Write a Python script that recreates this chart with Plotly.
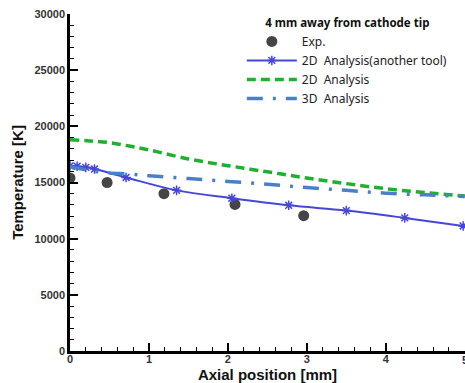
import plotly.graph_objects as go

# Experimental data
exp_x = [0.0, 0.47, 1.19, 2.09, 2.96]
exp_y = [15400, 15000, 14000, 13050, 12050]

# 2D Analysis (another tool)
other_x = [0.0, 0.09, 0.2, 0.31, 0.71, 1.35, 2.05, 2.77, 3.50, 4.24, 4.98]
other_y = [16480, 16450, 16350, 16200, 15450, 14300, 13600, 12970, 12500, 11850, 11130]

# 2D Analysis
a2d_x = [0, 0.25, 0.5, 0.75, 1.0, 1.5, 2.0, 2.5, 3.0, 3.5, 4.0, 4.5, 5.0]
a2d_y = [18800, 18700, 18550, 18250, 17900, 17100, 16500, 15950, 15400, 14900, 14450, 14100, 13800]

# 3D Analysis
a3d_x = [0, 0.15, 0.3, 0.5, 0.75, 1.0, 1.5, 2.0, 2.5, 3.0, 3.5, 4.0, 4.5, 5.0]
a3d_y = [16400, 16200, 16000, 15850, 15750, 15600, 15350, 15100, 14850, 14550, 14300, 14050, 13900, 13750]

x_ticks = [0, 1, 2, 3, 4, 5]
y_ticks = [0, 5000, 10000, 15000, 20000, 25000, 30000]

fig = go.Figure()
fig.add_trace(go.Scatter(x=exp_x, y=exp_y, mode="markers", name="Exp.",
                         marker=dict(color="#454545", size=11)))
fig.add_trace(go.Scatter(x=other_x, y=other_y, mode="lines+markers",
                         name="2D  Analysis(another tool)",
                         line=dict(color="#4646d8", width=2, shape="spline"),
                         marker=dict(symbol="asterisk-open", size=8,
                                     line=dict(color="#5a5aff", width=1.5))))
fig.add_trace(go.Scatter(x=a2d_x, y=a2d_y, mode="lines", name="2D  Analysis",
                         line=dict(color="#1fb030", width=3.5, dash="9px,5px", shape="spline")))
fig.add_trace(go.Scatter(x=a3d_x, y=a3d_y, mode="lines", name="3D  Analysis",
                         line=dict(color="#4a80c8", width=3.5, dash="16px,10px,3px,10px", shape="spline")))

tickfont = dict(family="Liberation Sans, Arial", size=11, color="#333333", weight="bold")

# last x tick label sits on the right edge of the figure; draw it as an annotation
fig.add_annotation(x=x_ticks[-1], xref="x", y=0, yref="paper", text=str(x_ticks[-1]),
                   showarrow=False, yanchor="top", xanchor="center", yshift=-1,
                   font=tickfont)

fig.update_layout(
    width=465, height=383,
    margin=dict(l=70, r=0, t=14, b=32, autoexpand=False),
    plot_bgcolor="white", paper_bgcolor="white",
    showlegend=True,
    legend=dict(
        x=0.435, y=1.006, xanchor="left", yanchor="top",
        bgcolor="rgba(255,255,255,0)",
        font=dict(family="Noto Sans", size=12, color="#222222"),
        title=dict(text="<b>4 mm away from cathode tip</b>", side="top center",
                   font=dict(family="Noto Sans", size=11.5, color="#111111")),
        itemwidth=50, tracegroupgap=0,
    ),
    xaxis=dict(
        range=[0, 5.003], tickvals=x_ticks, ticktext=[str(v) for v in x_ticks],
        showgrid=False, zeroline=False, automargin=False,
        showline=True, linecolor="black", linewidth=2.5,
        ticks="inside", ticklen=8, tickwidth=2, tickcolor="black",
        minor=dict(ticks="inside", ticklen=4, dtick=0.2, tickwidth=1, tickcolor="black", showgrid=False),
        tickfont=tickfont, ticklabelstandoff=-4,
        title=dict(text="<b>Axial position [mm]</b>", standoff=9,
                   font=dict(family="Liberation Sans, Arial", size=15, color="#111111")),
    ),
    yaxis=dict(
        range=[0, 30000], tickvals=y_ticks, ticktext=[str(v) for v in y_ticks],
        showgrid=False, zeroline=False, automargin=False,
        showline=True, linecolor="black", linewidth=2.5,
        ticks="inside", ticklen=8, tickwidth=2, tickcolor="black",
        minor=dict(ticks="inside", ticklen=4, dtick=1000, tickwidth=1, tickcolor="black", showgrid=False),
        tickfont=tickfont,
        title=dict(text="<b>Temperature [K]</b>", standoff=8,
                   font=dict(family="Liberation Sans, Arial", size=15, color="#111111")),
    ),
)

fig.write_html("out.html", config={"displayModeBar": False},
               post_script="document.body.style.margin='0';")
